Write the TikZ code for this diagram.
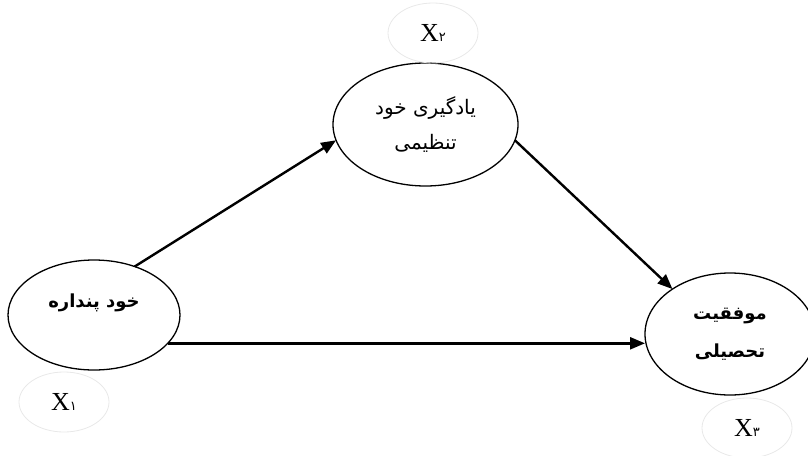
\documentclass[tikz,border=0pt]{standalone}
\usepackage{fontspec}
\setmainfont{Liberation Serif}
\newfontfamily\fa[Script=Arabic]{DejaVu Sans}
\TeXXeTstate=1
\usetikzlibrary{shapes.geometric,arrows.meta}
\begin{document}
\begin{tikzpicture}[x=1pt,y=-1pt,
  varnode/.style={ellipse,draw,line width=1.3pt,inner sep=0pt,outer sep=0pt,align=center},
  fatext/.style={font=\fa\fontsize{20}{35}\selectfont},
  fabold/.style={font=\fa\bfseries\fontsize{18}{38}\selectfont},
  errnode/.style={ellipse,draw=black!9,line width=0.8pt,inner sep=0pt,outer sep=0pt,
    minimum width=90pt,minimum height=60pt,font=\fontsize{26}{26}\selectfont},
  arr/.style={line width=2.4pt,-{Triangle[length=15pt,width=12pt]}},
]
\useasboundingbox (0,0) rectangle (808,455);

% latent variables
\node[varnode,fabold,minimum width=172pt,minimum height=110pt] (A) at (94,315)
  {\beginR خود پنداره\endR\\[-10pt]\mbox{}};
\node[varnode,fatext,minimum width=185pt,minimum height=123pt] (B) at (425.5,124.5)
  {\beginR یادگیری خود\endR\\\beginR تنظیمی\endR};
\node[varnode,fabold,minimum width=170pt,minimum height=122pt] (C) at (730,334)
  {\beginR موفقیت\endR\\\beginR تحصیلی\endR};

% labels
\node[errnode] (e1) at (64,402) {X{\fa\fontsize{13}{13}\selectfont ۱}};
\node[errnode] (e2) at (433,33) {X{\fa\fontsize{13}{13}\selectfont ۲}};
\node[errnode] (e3) at (747,428) {X{\fa\fontsize{13}{13}\selectfont ۳}};

% paths
\draw[arr] (A.50) -- (B.190);
\draw[arr] (B.-10) -- (C.142);
\draw[arr] (A.-21) -- (A.-21 -| C.west);
\end{tikzpicture}
\end{document}
